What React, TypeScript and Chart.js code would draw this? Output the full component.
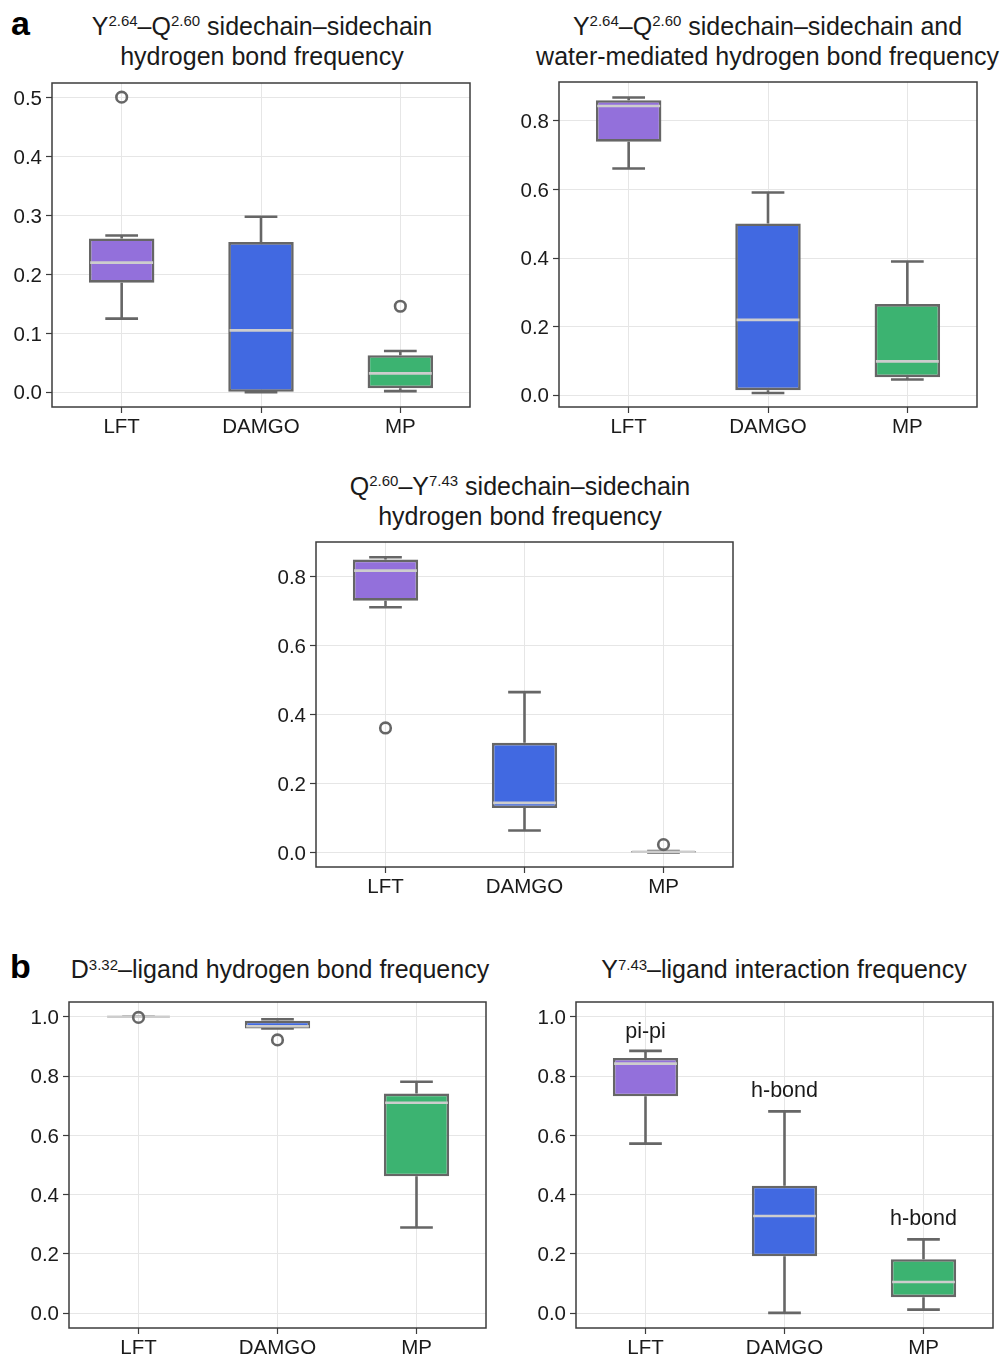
import React, { useEffect, useRef } from 'react';
import { Chart, registerables } from 'chart.js';

Chart.register(...registerables);

const FONT = '"Liberation Sans", Arial, Helvetica, sans-serif';
const TEXT = '#1a1a1a';
const EDGE = '#666666';
const MEDIAN = '#cdcdcd';
const GRID = '#e6e6e6';
const FRAME = '#3c3c3c';
const LW = 2.6;

const categories = ['LFT', 'DAMGO', 'MP'];
const boxColors = ['#9370DB', '#4169E1', '#3CB371'];

// Panel a, top-left: Y2.64–Q2.60 sidechain–sidechain
const a1Low = [0.125, 0.0, 0.002];
const a1Q1 = [0.186, 0.0, 0.007];
const a1Median = [0.22, 0.105, 0.032];
const a1Q3 = [0.261, 0.255, 0.063];
const a1High = [0.266, 0.298, 0.07];
const a1Outliers = [{ x: 'LFT', y: 0.501 }, { x: 'MP', y: 0.146 }];
const a1Ticks = [0, 0.1, 0.2, 0.3, 0.4, 0.5];

// Panel a, top-right: sidechain–sidechain and water-mediated
const a2Low = [0.661, 0.007, 0.046];
const a2Q1 = [0.739, 0.015, 0.053];
const a2Median = [0.843, 0.22, 0.099];
const a2Q3 = [0.86, 0.501, 0.266];
const a2High = [0.868, 0.591, 0.39];
const a2Outliers: { x: string; y: number }[] = [];
const a2Ticks = [0, 0.2, 0.4, 0.6, 0.8];

// Panel a, middle: Q2.60–Y7.43
const a3Low = [0.712, 0.065, 0.001];
const a3Q1 = [0.731, 0.13, 0.001];
const a3Median = [0.818, 0.145, 0.003];
const a3Q3 = [0.85, 0.319, 0.005];
const a3High = [0.857, 0.466, 0.005];
const a3Outliers = [{ x: 'LFT', y: 0.362 }, { x: 'MP', y: 0.024 }];
const a3Ticks = [0, 0.2, 0.4, 0.6, 0.8];

// Panel b, left: D3.32–ligand hydrogen bond
const b1Low = [1.0, 0.961, 0.289];
const b1Q1 = [1.0, 0.961, 0.462];
const b1Median = [1.0, 0.968, 0.71];
const b1Q3 = [1.0, 0.987, 0.741];
const b1High = [1.0, 0.992, 0.781];
const b1Outliers = [{ x: 'LFT', y: 0.998 }, { x: 'DAMGO', y: 0.922 }];
const b1Ticks = [0, 0.2, 0.4, 0.6, 0.8, 1.0];

// Panel b, right: Y7.43–ligand interaction
const b2Low = [0.572, 0.001, 0.012];
const b2Q1 = [0.732, 0.192, 0.054];
const b2Median = [0.842, 0.328, 0.105];
const b2Q3 = [0.861, 0.43, 0.182];
const b2High = [0.885, 0.681, 0.249];
const b2Outliers: { x: string; y: number }[] = [];
const b2Ticks = [0, 0.2, 0.4, 0.6, 0.8, 1.0];
const b2Notes = ['pi-pi', 'h-bond', 'h-bond'];
const b2NoteY = [0.93, 0.728, 0.296];

interface Spec {
  low: number[];
  q1: number[];
  median: number[];
  q3: number[];
  high: number[];
  outliers: { x: string; y: number }[];
  ticks: number[];
  yMin: number;
  yMax: number;
  notes?: string[];
  noteY?: number[];
  rect: { left: number; top: number; w: number; h: number };
}

const PADL = 60;
const PADT = 24;
const PADR = 10;
const PADB = 45;

function makePlugin(spec: Spec) {
  return {
    id: 'boxDecor',
    beforeDatasetsDraw(chart: any) {
      const ctx = chart.ctx;
      const y = chart.scales.y;
      const bars = chart.getDatasetMeta(0).data;
      ctx.save();
      ctx.strokeStyle = EDGE;
      ctx.lineWidth = LW;
      ctx.lineCap = 'butt';
      bars.forEach((bar: any, i: number) => {
        const cx = bar.x;
        const half = bar.width / 4;
        const yLo = y.getPixelForValue(spec.low[i]);
        const yQ1 = y.getPixelForValue(spec.q1[i]);
        const yQ3 = y.getPixelForValue(spec.q3[i]);
        const yHi = y.getPixelForValue(spec.high[i]);
        ctx.beginPath();
        ctx.moveTo(cx, yQ1);
        ctx.lineTo(cx, yLo);
        ctx.moveTo(cx, yQ3);
        ctx.lineTo(cx, yHi);
        ctx.moveTo(cx - half, yLo);
        ctx.lineTo(cx + half, yLo);
        ctx.moveTo(cx - half, yHi);
        ctx.lineTo(cx + half, yHi);
        ctx.stroke();
      });
      ctx.restore();
    },
    afterDatasetDraw(chart: any, args: any) {
      if (args.index !== 0) return;
      const ctx = chart.ctx;
      const y = chart.scales.y;
      const bars = chart.getDatasetMeta(0).data;
      ctx.save();
      ctx.strokeStyle = MEDIAN;
      ctx.lineWidth = LW;
      bars.forEach((bar: any, i: number) => {
        const ym = y.getPixelForValue(spec.median[i]);
        const l = bar.x - bar.width / 2 + LW / 2;
        const r = bar.x + bar.width / 2 - LW / 2;
        ctx.beginPath();
        ctx.moveTo(l, ym);
        ctx.lineTo(r, ym);
        ctx.stroke();
      });
      ctx.restore();
    },
    afterDraw(chart: any) {
      const ctx = chart.ctx;
      const a = chart.chartArea;
      ctx.save();
      ctx.strokeStyle = FRAME;
      ctx.lineWidth = 1.5;
      ctx.strokeRect(a.left, a.top, a.right - a.left, a.bottom - a.top);
      if (spec.notes && spec.noteY) {
        const x = chart.scales.x;
        const y = chart.scales.y;
        ctx.fillStyle = TEXT;
        ctx.font = `21.5px ${FONT}`;
        ctx.textAlign = 'center';
        ctx.textBaseline = 'alphabetic';
        spec.notes.forEach((t, i) => {
          ctx.fillText(t, x.getPixelForValue(i), y.getPixelForValue(spec.noteY![i]));
        });
      }
      ctx.restore();
    },
  };
}

function BoxPanel({ spec }: { spec: Spec }) {
  const ref = useRef<HTMLCanvasElement>(null);
  const W = spec.rect.w + PADL + PADR;
  const H = spec.rect.h + PADT + PADB;
  useEffect(() => {
    if (!ref.current) return;
    const tickFont = { family: FONT, size: 20.5 };
    const chart = new Chart(ref.current, {
      type: 'bar',
      data: {
        labels: categories,
        datasets: [
          {
            type: 'bar',
            data: spec.q1.map((v, i) => [v, spec.q3[i]]) as any,
            backgroundColor: boxColors,
            borderColor: EDGE,
            borderWidth: LW,
            borderSkipped: false,
            barPercentage: 0.47,
            categoryPercentage: 1,
            grouped: false,
            order: 1,
          } as any,
          {
            type: 'line',
            data: spec.outliers as any,
            showLine: false,
            pointRadius: 5.3,
            pointBorderWidth: 2.6,
            pointBorderColor: EDGE,
            pointBackgroundColor: 'rgba(0,0,0,0)',
            order: 0,
          } as any,
        ],
      },
      options: {
        responsive: false,
        animation: false,
        devicePixelRatio: 1,
        layout: { padding: { left: 0, top: PADT, right: PADR, bottom: 0 } },
        plugins: {
          legend: { display: false },
          tooltip: { enabled: false },
          title: { display: false },
        },
        scales: {
          x: {
            type: 'category',
            offset: true,
            grid: {
              offset: false,
              color: GRID,
              lineWidth: 1,
              tickColor: FRAME,
              tickLength: 6,
              tickWidth: 1.2,
            },
            border: { display: false },
            ticks: {
              color: TEXT,
              font: tickFont,
              padding: 2,
              maxRotation: 0,
              autoSkip: false,
            },
            afterFit: (s: any) => {
              s.height = PADB;
            },
          },
          y: {
            type: 'linear',
            min: spec.yMin,
            max: spec.yMax,
            grid: {
              color: GRID,
              lineWidth: 1,
              tickColor: FRAME,
              tickLength: 6,
              tickWidth: 1.2,
            },
            border: { display: false },
            ticks: {
              color: TEXT,
              font: tickFont,
              padding: 4,
              labelOffset: 1.5,
              callback: (v: any) => Number(v).toFixed(1),
            },
            afterBuildTicks: (s: any) => {
              s.ticks = spec.ticks.map((v) => ({ value: v }));
            },
            afterFit: (s: any) => {
              s.width = PADL;
            },
          },
        },
      } as any,
      plugins: [makePlugin(spec)],
    });
    return () => chart.destroy();
  }, [spec]);
  return (
    <canvas
      ref={ref}
      width={W}
      height={H}
      style={{
        position: 'absolute',
        left: spec.rect.left - PADL,
        top: spec.rect.top - PADT,
        width: W,
        height: H,
      }}
    />
  );
}

const specs: Spec[] = [
  {
    low: a1Low, q1: a1Q1, median: a1Median, q3: a1Q3, high: a1High,
    outliers: a1Outliers, ticks: a1Ticks, yMin: -0.025, yMax: 0.525,
    rect: { left: 52, top: 83, w: 418, h: 324 },
  },
  {
    low: a2Low, q1: a2Q1, median: a2Median, q3: a2Q3, high: a2High,
    outliers: a2Outliers, ticks: a2Ticks, yMin: -0.034, yMax: 0.913,
    rect: { left: 559, top: 82, w: 418, h: 325 },
  },
  {
    low: a3Low, q1: a3Q1, median: a3Median, q3: a3Q3, high: a3High,
    outliers: a3Outliers, ticks: a3Ticks, yMin: -0.041, yMax: 0.901,
    rect: { left: 316, top: 542, w: 417, h: 325 },
  },
  {
    low: b1Low, q1: b1Q1, median: b1Median, q3: b1Q3, high: b1High,
    outliers: b1Outliers, ticks: b1Ticks, yMin: -0.05, yMax: 1.05,
    rect: { left: 69, top: 1002, w: 417, h: 326 },
  },
  {
    low: b2Low, q1: b2Q1, median: b2Median, q3: b2Q3, high: b2High,
    outliers: b2Outliers, ticks: b2Ticks, yMin: -0.05, yMax: 1.05,
    notes: b2Notes, noteY: b2NoteY,
    rect: { left: 576, top: 1002, w: 417, h: 326 },
  },
];

function Sup({ children }: { children: React.ReactNode }) {
  return (
    <span style={{ fontSize: 15, position: 'relative', top: -8.5, lineHeight: 0 }}>{children}</span>
  );
}

function Title({ cx, baseline, children }: { cx: number; baseline: number; children: React.ReactNode }) {
  return (
    <div
      style={{
        position: 'absolute',
        left: cx - 300,
        width: 600,
        top: baseline - 23.7,
        textAlign: 'center',
        fontFamily: FONT,
        fontSize: 25,
        lineHeight: '30px',
        whiteSpace: 'nowrap',
        color: TEXT,
      }}
    >
      {children}
    </div>
  );
}

function PanelLabel({ x, baseline, text }: { x: number; baseline: number; text: string }) {
  return (
    <div
      style={{
        position: 'absolute',
        left: x,
        top: baseline - 31.8,
        fontFamily: FONT,
        fontWeight: 'bold',
        fontSize: 34,
        lineHeight: '40px',
        color: '#000',
      }}
    >
      {text}
    </div>
  );
}

export default function App() {
  return (
    <div style={{ position: 'absolute', left: 0, top: 0, width: 1004, height: 1357, background: '#fff', overflow: 'hidden' }}>
      <PanelLabel x={11} baseline={35} text="a" />
      <PanelLabel x={10} baseline={978} text="b" />
      <Title cx={262} baseline={34.5}>
        <div>Y<Sup>2.64</Sup>–Q<Sup>2.60</Sup> sidechain–sidechain</div>
        <div>hydrogen bond frequency</div>
      </Title>
      <Title cx={767.5} baseline={34.5}>
        <div>Y<Sup>2.64</Sup>–Q<Sup>2.60</Sup> sidechain–sidechain and</div>
        <div>water-mediated hydrogen bond frequency</div>
      </Title>
      <Title cx={520} baseline={494.5}>
        <div>Q<Sup>2.60</Sup>–Y<Sup>7.43</Sup> sidechain–sidechain</div>
        <div>hydrogen bond frequency</div>
      </Title>
      <Title cx={280} baseline={978}>
        <div>D<Sup>3.32</Sup>–ligand hydrogen bond frequency</div>
      </Title>
      <Title cx={784} baseline={978}>
        <div>Y<Sup>7.43</Sup>–ligand interaction frequency</div>
      </Title>
      {specs.map((s, i) => (
        <BoxPanel key={i} spec={s} />
      ))}
    </div>
  );
}
